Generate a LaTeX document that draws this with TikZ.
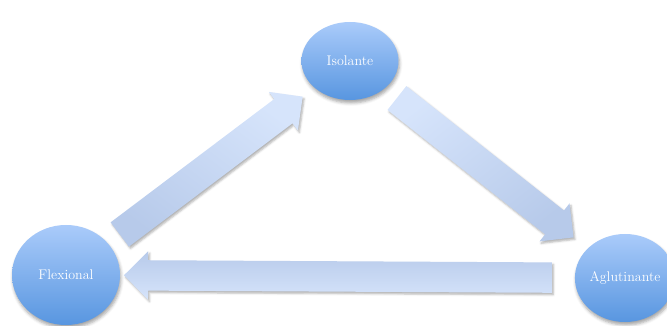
\documentclass[tikz,border=0pt]{standalone}
\usetikzlibrary{shapes.geometric,shapes.arrows,shadows.blur}

\definecolor{balltop}{RGB}{170,203,250}
\definecolor{ballbot}{RGB}{88,150,224}
\definecolor{bandtop}{RGB}{214,228,251}
\definecolor{bandbot}{RGB}{183,202,234}

\begin{document}
\begin{tikzpicture}[x=1pt, y=1pt,
  ball/.style={ellipse, draw=none, inner sep=0pt, top color=balltop, bottom color=ballbot,
    text=white, font=\fontsize{14}{16}\selectfont,
    blur shadow={shadow xshift=1pt, shadow yshift=-3pt, shadow blur radius=3pt, shadow opacity=35}},
  band/.style={single arrow, draw=none, inner xsep=0pt, inner ysep=15pt,
    single arrow head extend=9pt, sloped, allow upside down,
    top color=bandtop, bottom color=bandbot,
    blur shadow={shadow xshift=1.5pt, shadow yshift=-2pt, shadow blur radius=2pt, shadow opacity=30}}]
\useasboundingbox (0,0) rectangle (667,326);

\node (isolante) [ball, minimum width=97pt, minimum height=78pt] at (350,265) {Isolante};
\node (flexional) [ball, minimum width=108pt, minimum height=100pt] at (66,51) {Flexional};
\node (aglutinante) [ball, minimum width=86pt, minimum height=88pt] at (625,48) {Aglutinante};

\path (flexional.center) -- node[pos=0.49] (toiso) [band, minimum height=229pt, shading angle=-37] {} (isolante.center);
\path (isolante.center) -- node[pos=0.47] (toaglu) [band, minimum height=225pt, shading angle=38] {} (aglutinante.center);
\path (aglutinante.center) -- node[pos=0.5] (toflex) [band, minimum height=428pt, shading angle=180] {} (flexional.center);
\end{tikzpicture}
\end{document}
